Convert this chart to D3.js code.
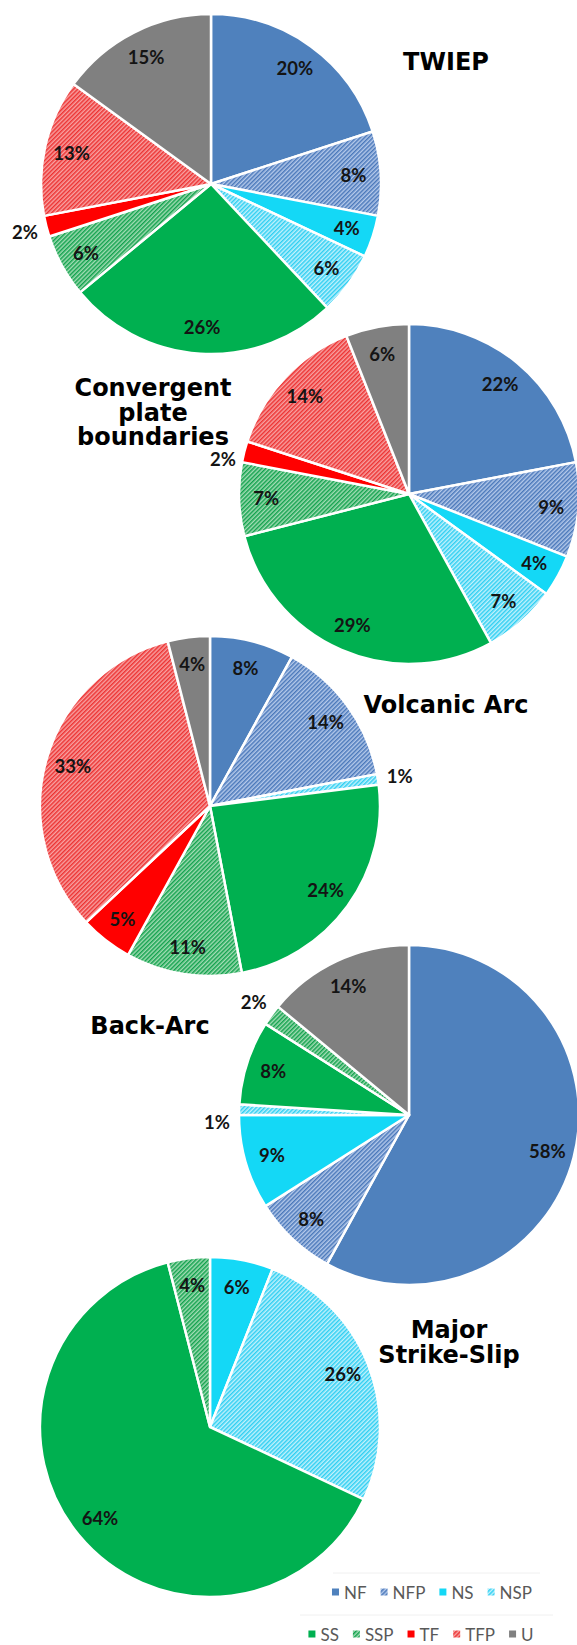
<!DOCTYPE html>
<html>
<head>
<meta charset="utf-8">
<script src="https://cdn.jsdelivr.net/npm/d3@7"></script>
<style>
  html, body { margin: 0; padding: 0; background: #ffffff; }
  svg { display: block; }
</style>
</head>
<body>
<svg id="chart" width="577" height="1645"></svg>
<script>
// Fault categories (shares in %), clockwise from 12 o'clock
const categories = ["NF", "NFP", "NS", "NSP", "SS", "SSP", "TF", "TFP", "U"];
const twiep      = [20, 8, 4, 6, 26, 6, 2, 13, 15];
const convergent = [22, 9, 4, 7, 29, 7, 2, 14, 6];
const volcanicArc = [8, 14, 0, 1, 24, 11, 5, 33, 4];
const backArc    = [58, 8, 9, 1, 8, 2, 0, 0, 14];
const strikeSlip = [0, 0, 6, 26, 64, 4, 0, 0, 0];
const titles = [
  ["TWIEP"],
  ["Convergent", "plate", "boundaries"],
  ["Volcanic Arc"],
  ["Back-Arc"],
  ["Major", "Strike-Slip"]
];
const legendRows = [["NF", "NFP", "NS", "NSP"], ["SS", "SSP", "TF", "TFP", "U"]];

// Solid colours and hatch definitions
const solid = {
  NF: "#4f81bd", NS: "#14d8f6", SS: "#00b050", TF: "#ff0000", U: "#808080"
};
const hatch = {
  NFP: { bg: "#b4c9ea", fg: "#4a78ba" },
  NSP: { bg: "#c2f1fc", fg: "#2fcff2" },
  SSP: { bg: "#a2dcb4", fg: "#13a24e" },
  TFP: { bg: "#f8a2a2", fg: "#ec3232" }
};

const svg = d3.select("#chart");
const defs = svg.append("defs");

Object.entries(hatch).forEach(([key, h]) => {
  const p = defs.append("pattern")
    .attr("id", "hatch-" + key)
    .attr("patternUnits", "userSpaceOnUse")
    .attr("width", 3).attr("height", 3)
    .attr("patternTransform", "rotate(45)");
  p.append("rect").attr("width", 3).attr("height", 3).attr("fill", h.bg);
  p.append("rect").attr("width", 1.5).attr("height", 3).attr("fill", h.fg);
});

const fillOf = k => solid[k] ? solid[k] : `url(#hatch-${k})`;

const panels = [
  { values: twiep,       cx: 211, cy: 184,  title: titles[0], tx: 446, ty: 70 },
  { values: convergent,  cx: 409, cy: 494,  title: titles[1], tx: 153, ty: 396 },
  { values: volcanicArc, cx: 210, cy: 806,  title: titles[2], tx: 446, ty: 713 },
  { values: backArc,     cx: 409, cy: 1115, title: titles[3], tx: 150, ty: 1034 },
  { values: strikeSlip,  cx: 210, cy: 1427, title: titles[4], tx: 449, ty: 1338 }
];

const R = 170;
const pie = d3.pie().sort(null).value(d => d.v);
const arc = d3.arc().innerRadius(0).outerRadius(R);
const inLabel = d3.arc().innerRadius(R * 0.84).outerRadius(R * 0.84);
const outLabel = d3.arc().innerRadius(R * 1.13).outerRadius(R * 1.13);

panels.forEach(p => {
  const g = svg.append("g").attr("transform", `translate(${p.cx},${p.cy})`);
  const data = pie(categories.map((c, i) => ({ k: c, v: p.values[i] })))
    .filter(d => d.data.v > 0);

  g.selectAll("path.slice").data(data).join("path")
    .attr("class", "slice")
    .attr("d", arc)
    .attr("fill", d => fillOf(d.data.k))
    .attr("stroke", "#ffffff")
    .attr("stroke-width", 2.5)
    .attr("stroke-linejoin", "round");

  g.selectAll("text.val").data(data).join("text")
    .attr("class", "val")
    .attr("transform", d => {
      const [x, y] = (d.data.v < 3 ? outLabel : inLabel).centroid(d);
      // small outside labels on the upper left sit just below their radial line
      const dy = d.data.v < 3 && x < 0 && y < 0 && y > -60 ? 13 : 0;
      return `translate(${x},${y + dy})`;
    })
    .attr("text-anchor", "middle")
    .attr("dominant-baseline", "central")
    .attr("font-family", "Lato, 'Open Sans', sans-serif")
    .attr("font-weight", 700)
    .attr("font-size", 18.5)
    .attr("fill", "#141414")
    .text(d => d.data.v + "%");

  const t = svg.append("text")
    .attr("x", p.tx).attr("y", p.ty)
    .attr("text-anchor", "middle")
    .attr("font-family", "'DejaVu Sans', sans-serif")
    .attr("font-weight", 700)
    .attr("font-size", 24)
    .attr("fill", "#000000");
  p.title.forEach((line, i) => {
    t.append("tspan").attr("x", p.tx).attr("dy", i === 0 ? 0 : 24.5).text(line);
  });
});

// Legend: two centred rows, each with a faint top rule
const legendLayout = [
  { y: 1592, cx: 432, rule: [333, 540], ruleY: 1573 },
  { y: 1634, cx: 421, rule: [300, 553], ruleY: 1615 }
];
legendRows.forEach((row, ri) => {
  const L = legendLayout[ri];
  svg.append("line")
    .attr("x1", L.rule[0]).attr("x2", L.rule[1])
    .attr("y1", L.ruleY).attr("y2", L.ruleY)
    .attr("stroke", "#f0f0f0").attr("stroke-width", 1);
  const g = svg.append("g");
  const items = g.selectAll("g.item").data(row).join("g").attr("class", "item");
  items.append("rect")
    .attr("width", 7).attr("height", 7)
    .attr("y", L.y - 3.5)
    .attr("fill", d => fillOf(d));
  const txt = items.append("text")
    .attr("x", 12).attr("y", L.y)
    .attr("dominant-baseline", "central")
    .attr("font-family", "Lato, 'Open Sans', sans-serif")
    .attr("font-size", 17)
    .attr("fill", "#595959")
    .text(d => d);
  let x = 0;
  const offsets = [];
  txt.each(function () {
    offsets.push(x);
    x += 12 + this.getComputedTextLength() + 14;
  });
  const total = x - 14;
  const start = L.cx - total / 2;
  items.attr("transform", (d, i) => `translate(${start + offsets[i]},0)`);
});
</script>
</body>
</html>
